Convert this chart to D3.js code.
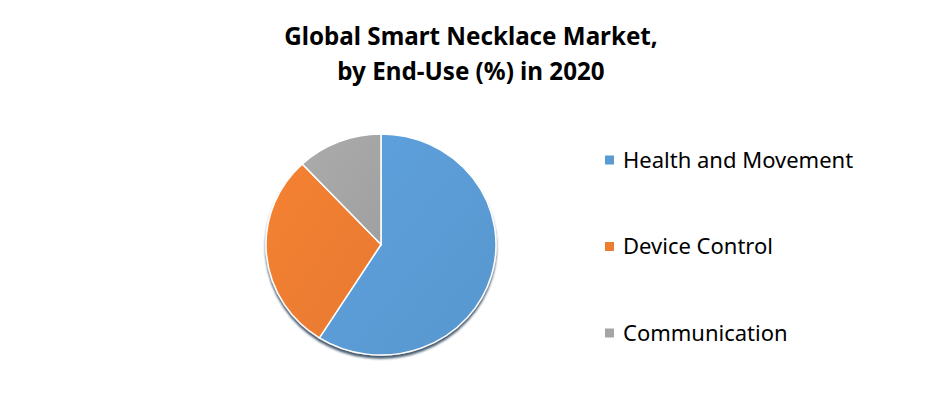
<!DOCTYPE html>
<head>
<meta charset="utf-8">
<script src="https://cdn.jsdelivr.net/npm/d3@7/dist/d3.min.js"></script>
<style>
body {
  margin: 0;
  background: #fff;
}
svg text {
  font-family: "Noto Sans", "Open Sans", sans-serif;
  fill: #000;
}
.title {
  font-weight: bold;
  font-size: 24.2px;
}
.legend text {
  font-size: 22px;
}
</style>
</head>
<body>
<div id="chart"></div>
<script>
// data
const titleLines = ["Global Smart Necklace Market,", "by End-Use (%) in 2020"];
const categories = ["Health and Movement", "Device Control", "Communication"];
const shares = [59, 29, 12];
const colors = ["#5b9bd5", "#ed7d31", "#a5a5a5"];

const width = 940, height = 398;
const cx = 381, cy = 244.5, rx = 115, ry = 110.5;

const svg = d3.select("#chart").append("svg")
    .attr("width", width)
    .attr("height", height);

// title
svg.append("g").selectAll("text")
    .data(titleLines)
  .enter().append("text")
    .attr("class", "title")
    .attr("x", 471)
    .attr("y", (d, i) => 45 + i * 35)
    .attr("text-anchor", "middle")
    .text(d => d);

const data = categories.map((c, i) => ({name: c, value: shares[i], color: colors[i]}));

const pie = d3.pie().sort(null).value(d => d.value);
const arc = d3.arc().innerRadius(0).outerRadius(rx);

const defs = svg.append("defs");
defs.append("filter").attr("id", "shadow")
    .attr("x", "-20%").attr("y", "-20%").attr("width", "140%").attr("height", "140%")
  .append("feDropShadow")
    .attr("dx", 0).attr("dy", 3).attr("stdDeviation", 1)
    .attr("flood-color", "#1f3550").attr("flood-opacity", 0.8);

data.forEach((d, i) => {
  const c = d3.color(d.color);
  const g = defs.append("linearGradient").attr("id", "grad" + i)
      .attr("x1", "0%").attr("y1", "0%").attr("x2", "100%").attr("y2", "100%");
  g.append("stop").attr("offset", "0%").attr("stop-color", c.brighter(0.1));
  g.append("stop").attr("offset", "100%").attr("stop-color", c.darker(0.08));
});

const pieG = svg.append("g")
    .attr("filter", "url(#shadow)")
  .append("g")
    .attr("transform", "translate(" + cx + "," + cy + ") scale(1," + (ry / rx) + ")");

pieG.selectAll("path")
    .data(pie(data))
  .enter().append("path")
    .attr("d", arc)
    .attr("fill", (d, i) => "url(#grad" + i + ")")
    .attr("stroke", "#fff")
    .attr("stroke-width", 1.5);

// legend
const legend = svg.append("g")
    .attr("class", "legend")
  .selectAll("g")
    .data(data)
  .enter().append("g")
    .attr("transform", (d, i) => "translate(605," + (160 + i * 86.5) + ")");

legend.append("rect")
    .attr("x", 0)
    .attr("y", -4.5)
    .attr("width", 9)
    .attr("height", 9)
    .attr("fill", d => d.color);

legend.append("text")
    .attr("x", 18)
    .attr("dy", "0.35em")
    .text(d => d.name);
</script>
</body>
